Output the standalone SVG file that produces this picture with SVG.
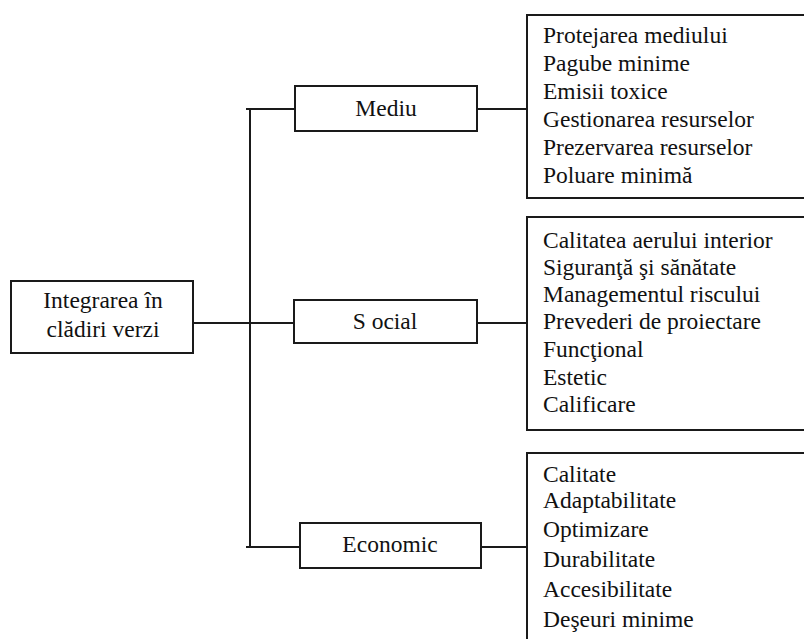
<svg xmlns="http://www.w3.org/2000/svg" width="804" height="639" viewBox="0 0 804 639" font-family="'Liberation Serif', 'DejaVu Serif', serif" font-size="23.5">
<style>
.box{fill:#fff;stroke:#1a1a1a;stroke-width:2}
.ln{fill:none;stroke:#1a1a1a;stroke-width:2}
.t{fill:#111}
.c{text-anchor:middle}
</style>
<rect width="804" height="639" fill="#fff"/>
<g id="connectors">
<path class="ln" d="M250 108 V547"/>
<path class="ln" d="M246 109 H295"/>
<path class="ln" d="M193 323 H294"/>
<path class="ln" d="M246 547 H300"/>
<path class="ln" d="M477 109 H527"/>
<path class="ln" d="M477 323 H527"/>
<path class="ln" d="M481 547 H527"/>
</g>
<g id="root">
<rect class="box" x="11" y="281" width="182" height="72"/>
<text class="t c" x="103" y="308">Integrarea în</text>
<text class="t c" x="103" y="337">clădiri verzi</text>
</g>
<g id="mediu">
<rect class="box" x="295" y="86" width="182" height="45"/>
<text class="t c" x="386" y="116">Mediu</text>
</g>
<g id="social">
<rect class="box" x="294" y="300" width="183" height="43"/>
<text class="t c" x="385" y="329">S ocial</text>
</g>
<g id="economic">
<rect class="box" x="300" y="523" width="181" height="45"/>
<text class="t c" x="390" y="552">Economic</text>
</g>
<g id="mediu-list">
<rect class="box" x="527" y="15" width="290" height="183"/>
<text class="t" x="543" y="43">Protejarea mediului</text>
<text class="t" x="543" y="71">Pagube minime</text>
<text class="t" x="543" y="99">Emisii toxice</text>
<text class="t" x="543" y="127">Gestionarea resurselor</text>
<text class="t" x="543" y="155">Prezervarea resurselor</text>
<text class="t" x="543" y="183">Poluare minimă</text>
</g>
<g id="social-list">
<rect class="box" x="527" y="217" width="290" height="213"/>
<text class="t" x="543" y="248">Calitatea aerului interior</text>
<text class="t" x="543" y="275">Siguranţă şi sănătate</text>
<text class="t" x="543" y="302">Managementul riscului</text>
<text class="t" x="543" y="329">Prevederi de proiectare</text>
<text class="t" x="543" y="357">Funcţional</text>
<text class="t" x="543" y="385">Estetic</text>
<text class="t" x="543" y="412">Calificare</text>
</g>
<g id="economic-list">
<rect class="box" x="527" y="453" width="290" height="200"/>
<text class="t" x="543" y="482">Calitate</text>
<text class="t" x="543" y="508">Adaptabilitate</text>
<text class="t" x="543" y="537">Optimizare</text>
<text class="t" x="543" y="567">Durabilitate</text>
<text class="t" x="543" y="597">Accesibilitate</text>
<text class="t" x="543" y="627">Deşeuri minime</text>
</g>
</svg>
